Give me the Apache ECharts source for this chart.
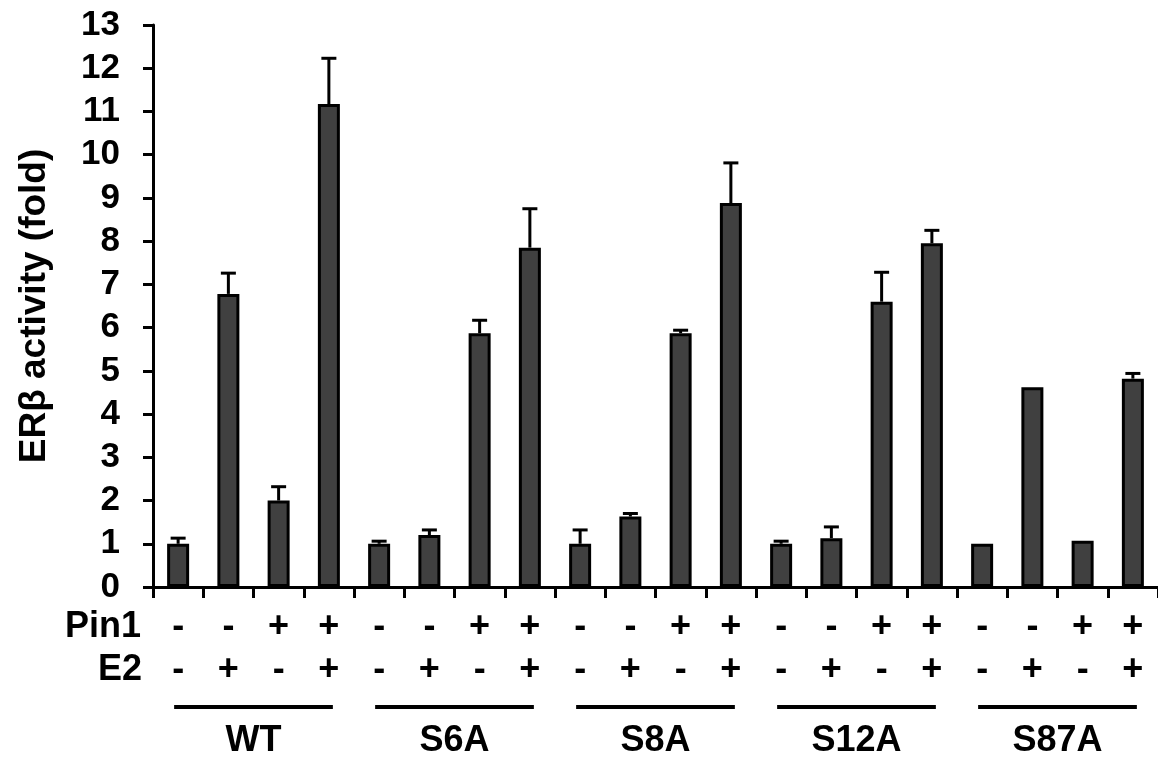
<!DOCTYPE html>
<html>
<head>
<meta charset="utf-8">
<script src="https://cdn.jsdelivr.net/npm/echarts@6/dist/echarts.min.js"></script>
<style>html,body{margin:0;padding:0;background:#fff;}#c{width:1158px;height:763px;}</style>
</head>
<body>
<div id="c"></div>
<script>
var groups = ['WT', 'S6A', 'S8A', 'S12A', 'S87A'];
var pin1 = ['-','-','+','+', '-','-','+','+', '-','-','+','+', '-','-','+','+', '-','-','+','+'];
var e2   = ['-','+','-','+', '-','+','-','+', '-','+','-','+', '-','+','-','+', '-','+','-','+'];
var values = [1.0, 6.78, 2.0, 11.17,
              1.0, 1.2, 5.87, 7.85,
              1.0, 1.63, 5.87, 8.88,
              1.0, 1.13, 6.6, 7.95,
              1.0, 4.62, 1.07, 4.82];
var errors = [0.13, 0.48, 0.32, 1.06,
              0.06, 0.12, 0.3, 0.9,
              0.32, 0.07, 0.07, 0.93,
              0.06, 0.26, 0.68, 0.3,
              0, 0, 0, 0.12];
var yTicks = [0, 1, 2, 3, 4, 5, 6, 7, 8, 9, 10, 11, 12, 13];

var FONT = '"Liberation Sans", Arial, sans-serif';
var cats = values.map(function (v, i) { return 'c' + i; });

var chart = echarts.init(document.getElementById('c'), null, {renderer: 'canvas'});
var option = {
  animation: false,
  backgroundColor: '#fff',
  grid: {left: 153, top: 25, width: 1007, height: 562, containLabel: false},
  xAxis: {
    type: 'category',
    data: cats,
    boundaryGap: true,
    axisLine: {lineStyle: {color: '#000', width: 3}},
    axisTick: {show: true, interval: 0, length: 11, lineStyle: {color: '#000', width: 3}},
    axisLabel: {
      interval: 0, margin: 19,
      fontFamily: FONT, fontWeight: 'bold', fontSize: 36, color: '#000', lineHeight: 43,
      formatter: function (val, idx) { return pin1[idx] + '\n' + e2[idx]; }
    },
    splitLine: {show: false}
  },
  yAxis: {
    type: 'value',
    min: yTicks[0], max: yTicks[yTicks.length - 1], interval: 1,
    name: 'ERβ activity (fold)',
    nameLocation: 'middle', nameGap: 100, nameRotate: 90,
    nameTextStyle: {fontFamily: FONT, fontWeight: 'bold', fontSize: 37, color: '#000'},
    axisLine: {show: true, lineStyle: {color: '#000', width: 3}},
    axisTick: {show: true, inside: false, length: 10, lineStyle: {color: '#000', width: 3}},
    axisLabel: {margin: 33, fontFamily: FONT, fontWeight: 'bold', fontSize: 35, color: '#000'},
    splitLine: {show: false}
  },
  series: [
    {
      type: 'custom',
      z: 1,
      data: values.map(function (v, i) { return [i, v, errors[i]]; }),
      renderItem: function (params, api) {
        var err = api.value(2);
        if (!err) return null;
        var x = api.value(0), v = api.value(1);
        var p0 = api.coord([x, v]);
        var p1 = api.coord([x, v + err]);
        var st = {stroke: '#000', lineWidth: 3};
        return {type: 'group', children: [
          {type: 'line', shape: {x1: p0[0], y1: p0[1], x2: p1[0], y2: p1[1]}, style: st},
          {type: 'line', shape: {x1: p1[0] - 7.5, y1: p1[1], x2: p1[0] + 7.5, y2: p1[1]}, style: st}
        ]};
      }
    },
    {
      type: 'bar',
      z: 2,
      data: values,
      barWidth: 22,
      itemStyle: {color: '#404040', borderColor: '#000', borderWidth: 3}
    }
  ]
};
chart.setOption(option);

var g = [];
g.push({type: 'text', style: {text: 'Pin1', x: 141, y: 627, align: 'right', verticalAlign: 'middle',
  font: 'bold 36px ' + FONT, fill: '#000'}});
g.push({type: 'text', style: {text: 'E2', x: 142, y: 670, align: 'right', verticalAlign: 'middle',
  font: 'bold 36px ' + FONT, fill: '#000'}});
groups.forEach(function (name, k) {
  var a = chart.convertToPixel({xAxisIndex: 0}, cats[k * 4]);
  var b = chart.convertToPixel({xAxisIndex: 0}, cats[k * 4 + 3]);
  var yy = chart.convertToPixel({yAxisIndex: 0}, 0);
  g.push({type: 'line', shape: {x1: a - 4, y1: yy + 120, x2: b + 4, y2: yy + 120},
    style: {stroke: '#000', lineWidth: 4}});
  g.push({type: 'text', style: {text: name, x: (a + b) / 2, y: yy + 154, align: 'center', verticalAlign: 'middle',
    font: 'bold 36px ' + FONT, fill: '#000'}});
});
chart.setOption({graphic: g});
</script>
</body>
</html>
